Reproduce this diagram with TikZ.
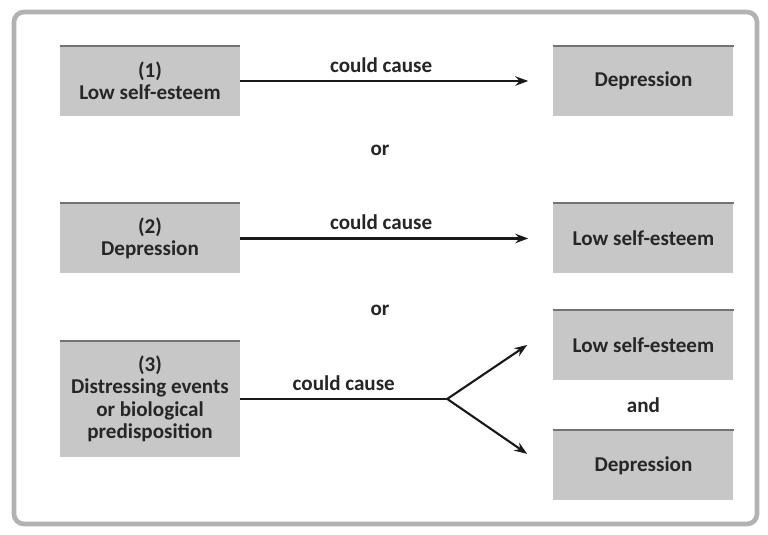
\documentclass[tikz,border=0pt]{standalone}
\usepackage{fontspec}
\setmainfont{Carlito}
\usepackage{xcolor}
\usepackage{tikz}
\usetikzlibrary{arrows.meta,positioning,calc}

\begin{document}
\begin{tikzpicture}[
		font=\fontsize{18}{19}\selectfont\bfseries,
		>={Stealth[length=11pt,width=8pt]},
		causebox/.style={fill=black!22, text=black!85, align=center, minimum width=5.4cm, minimum height=2.1cm, inner sep=2pt},
		topline/.style={draw=black!55, line width=2pt},
		flow/.style={line width=1.8pt, draw=black!90},
		cause/.style={flow, ->, shorten >=0.75cm},
		word/.style={text=black!85}
		]
		\useasboundingbox (0,0) rectangle (23.04,-16.02);
		\draw[black!30, line width=4pt, rounded corners=0.3cm, fill=white] (0.42,-0.36) rectangle (22.71,-15.72);
		
		\node[causebox] (b1) at (4.5,-2.43) {(1)\\Low self-esteem};
		\node[causebox, below=2.61cm of b1] (b2) {(2)\\Depression};
		\node[causebox, below=2.01cm of b2, minimum height=3.48cm] (b3) {(3)\\Distressing events\\or biological\\predisposition};
		
		\node[causebox, right=9.39cm of b1] (r1) {Depression};
		\node[causebox, right=9.39cm of b2] (r2) {Low self-esteem};
		\node[causebox, right=9.39cm of b3.north east, anchor=north west, yshift=0.93cm] (r3) {Low self-esteem};
		\node[causebox, below=1.5cm of r3] (r4) {Depression};
		
		\foreach \n in {b1,b2,b3,r1,r2,r3,r4}
			\draw[topline] (\n.north west) -- (\n.north east);
		
		\draw[cause] (b1.east) -- (r1.west) node[word, pos=0.45, above=3pt] {could cause};
		\node[word] (or1) at (11.4,-4.5) {or};
		\draw[cause] (b2.east) -- (r2.west) node[word, pos=0.45, above=3pt] {could cause};
		\node[word] (or2) at (11.4,-9.3) {or};
		
		\coordinate (fork) at ($(b3.east)+(6.21,0)$);
		\coordinate (up) at ($(fork)+(2.4,1.62)$);
		\coordinate (down) at ($(fork)+(2.4,-1.65)$);
		\draw[flow] (b3.east) -- (fork) node[word, midway, above=3pt] {could cause};
		\draw[flow, ->] (fork) -- (up);
		\draw[flow, ->] (fork) -- (down);
		\node[word] (and) at ($(r3.south)!0.5!(r4.north)$) {and};
	\end{tikzpicture}
\end{document}
